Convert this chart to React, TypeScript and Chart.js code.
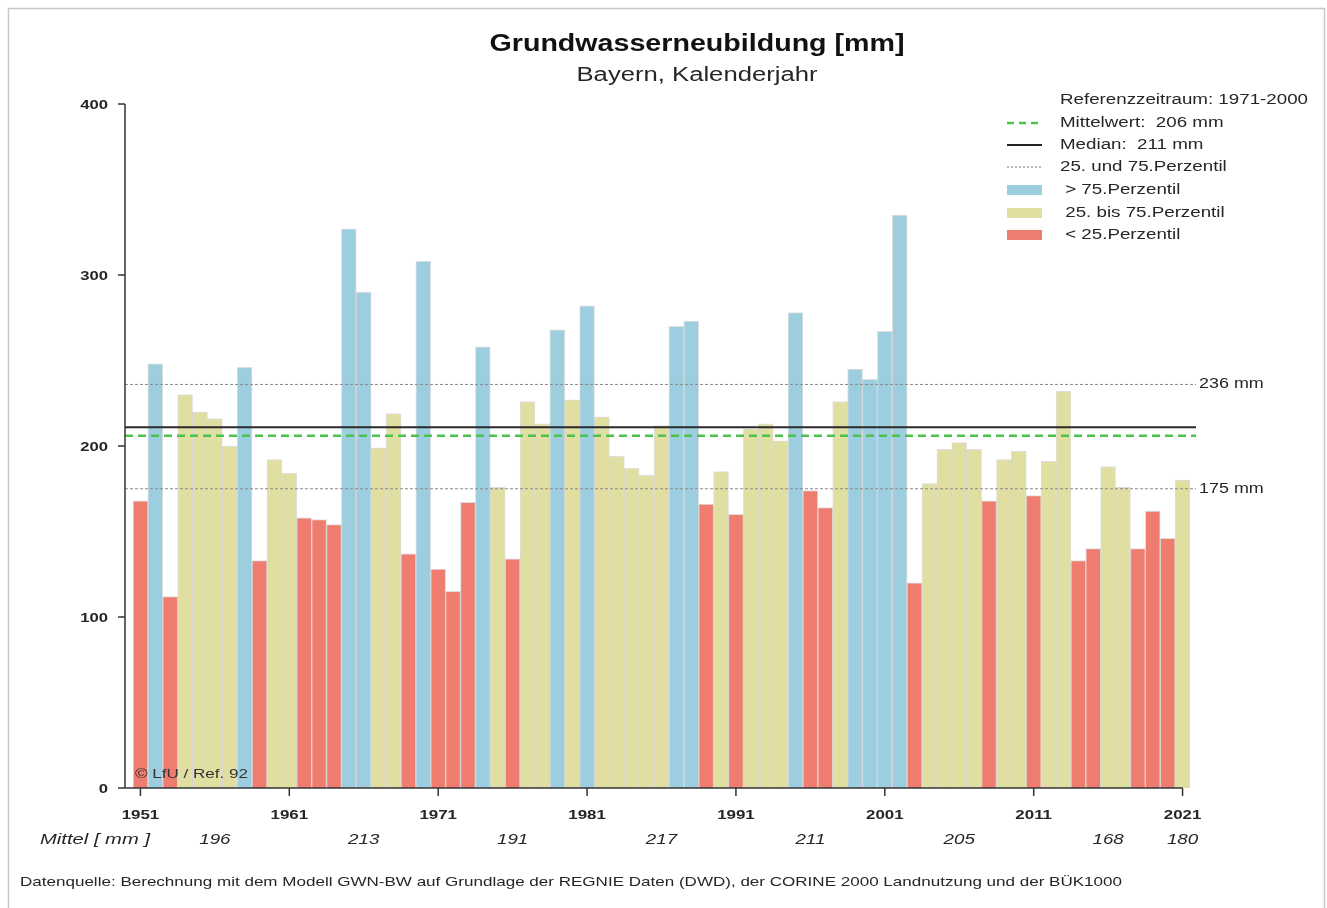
import React, { useEffect, useRef } from "react";
import { Chart, registerables } from "chart.js";

Chart.register(...registerables);

// ---- data ----
const years: number[] = Array.from({ length: 71 }, (_, i) => 1951 + i);
const recharge: number[] = [
  168, 248, 112, 230, 220, 216, 200, 246, 133, 192,
  184, 158, 157, 154, 327, 290, 199, 219, 137, 308,
  128, 115, 167, 258, 176, 134, 226, 213, 268, 227,
  282, 217, 194, 187, 183, 212, 270, 273, 166, 185,
  160, 210, 213, 203, 278, 174, 164, 226, 245, 239,
  267, 335, 120, 178, 198, 202, 198, 168, 192, 197,
  171, 191, 232, 133, 140, 188, 176, 140, 162, 146,
  180,
];
const yTicks: number[] = [0, 100, 200, 300, 400];
const xTickYears: number[] = [1951, 1961, 1971, 1981, 1991, 2001, 2011, 2021];
const meanLabelYears: number[] = [1956, 1966, 1976, 1986, 1996, 2006, 2016, 2021];
const decadeMeans: number[] = [196, 213, 191, 217, 211, 205, 168, 180];
const refMean = 206;
const refMedian = 211;
const p25 = 175;
const p75 = 236;

const titleText = "Grundwasserneubildung [mm]";
const subtitleText = "Bayern, Kalenderjahr";
const legendHeader = "Referenzzeitraum: 1971-2000";
const legendItems: string[] = [
  "Mittelwert:  206 mm",
  "Median:  211 mm",
  "25. und 75.Perzentil",
  " > 75.Perzentil",
  " 25. bis 75.Perzentil",
  " < 25.Perzentil",
];
const sourceText =
  "Datenquelle: Berechnung mit dem Modell GWN-BW auf Grundlage der REGNIE Daten (DWD), der CORINE 2000 Landnutzung und der BÜK1000";
const copyrightText = "© LfU / Ref. 92";

const BLUE = "rgb(157,206,223)";
const YELLOW = "rgb(224,222,160)";
const RED = "rgb(238,125,112)";
const FF = '"Liberation Sans", Arial, Helvetica, sans-serif';
const TXT = "#262626";

function drawText(
  ctx: CanvasRenderingContext2D,
  s: string,
  x: number,
  y: number,
  font: string,
  opts: { align?: "left" | "right" | "center"; sx?: number; width?: number; color?: string } = {}
) {
  ctx.save();
  ctx.font = font;
  ctx.fillStyle = opts.color || TXT;
  ctx.textBaseline = "middle";
  ctx.textAlign = "left";
  const m = ctx.measureText(s).width;
  const sx = opts.width ? opts.width / m : opts.sx || 1;
  const w = m * sx;
  const align = opts.align || "left";
  const left = align === "left" ? x : align === "right" ? x - w : x - w / 2;
  ctx.translate(left, y);
  ctx.scale(sx, 1);
  ctx.fillText(s, 0, 0);
  ctx.restore();
  return sx;
}

function hline(
  ctx: CanvasRenderingContext2D,
  x1: number,
  x2: number,
  y: number,
  color: string,
  width: number,
  dash: number[]
) {
  ctx.save();
  ctx.strokeStyle = color;
  ctx.lineWidth = width;
  ctx.setLineDash(dash);
  ctx.beginPath();
  ctx.moveTo(x1, y);
  ctx.lineTo(x2, y);
  ctx.stroke();
  ctx.restore();
}

const decorPlugin = {
  id: "decor",
  beforeDraw(chart: any) {
    const ctx: CanvasRenderingContext2D = chart.ctx;
    ctx.save();
    ctx.fillStyle = "#ffffff";
    ctx.fillRect(0, 0, chart.width, chart.height);
    // outer frame (left, top, right)
    ctx.strokeStyle = "#c8c8c8";
    ctx.lineWidth = 1.5;
    ctx.beginPath();
    ctx.moveTo(8.5, chart.height);
    ctx.lineTo(8.5, 8.5);
    ctx.lineTo(1324.5, 8.5);
    ctx.lineTo(1324.5, chart.height);
    ctx.stroke();
    ctx.restore();
  },
  afterDatasetsDraw(chart: any) {
    const ctx: CanvasRenderingContext2D = chart.ctx;
    const xs = chart.scales.x;
    const ys = chart.scales.y;
    const area = chart.chartArea;
    const axisX = area.left - 8;
    const lineEnd = area.right + 6;

    // reference lines
    hline(ctx, axisX, lineEnd, ys.getPixelForValue(p75), "#8a8a8a", 1, [3, 2]);
    hline(ctx, axisX, lineEnd, ys.getPixelForValue(p25), "#8a8a8a", 1, [3, 2]);
    hline(ctx, axisX, lineEnd, ys.getPixelForValue(refMedian), "#2a2a2a", 2, []);
    hline(ctx, axisX, lineEnd, ys.getPixelForValue(refMean), "#4cc24c", 2.5, [8, 5]);
    drawText(ctx, p75 + " mm", lineEnd + 3, ys.getPixelForValue(p75), `14px ${FF}`, { sx: 1.28 });
    drawText(ctx, p25 + " mm", lineEnd + 3, ys.getPixelForValue(p25), `14px ${FF}`, { sx: 1.28 });

    // y axis
    const y0 = ys.getPixelForValue(0);
    const yTop = ys.getPixelForValue(400);
    ctx.save();
    ctx.strokeStyle = "#333";
    ctx.lineWidth = 1.5;
    ctx.beginPath();
    ctx.moveTo(axisX, yTop);
    ctx.lineTo(axisX, y0);
    ctx.stroke();
    yTicks.forEach((v) => {
      const py = ys.getPixelForValue(v);
      ctx.beginPath();
      ctx.moveTo(axisX - 7, py);
      ctx.lineTo(axisX, py);
      ctx.stroke();
    });
    // x axis
    const lastX = xs.getPixelForValue(years.length - 1);
    ctx.beginPath();
    ctx.moveTo(axisX, y0);
    ctx.lineTo(lastX, y0);
    ctx.stroke();
    xTickYears.forEach((yr) => {
      const px = xs.getPixelForValue(years.indexOf(yr));
      ctx.beginPath();
      ctx.moveTo(px, y0);
      ctx.lineTo(px, y0 + 8);
      ctx.stroke();
    });
    ctx.restore();

    yTicks.forEach((v) => {
      drawText(ctx, String(v), axisX - 17, ys.getPixelForValue(v) + 1, `bold 13px ${FF}`, {
        align: "right",
        sx: 1.28,
      });
    });
    xTickYears.forEach((yr) => {
      drawText(ctx, String(yr), xs.getPixelForValue(years.indexOf(yr)), y0 + 27, `bold 13px ${FF}`, {
        align: "center",
        sx: 1.3,
      });
    });

    // Mittel row
    drawText(ctx, "Mittel [ mm ]", 95, y0 + 52, `italic 15px ${FF}`, { align: "center", width: 110 });
    meanLabelYears.forEach((yr, i) => {
      drawText(ctx, String(decadeMeans[i]), xs.getPixelForValue(years.indexOf(yr)), y0 + 52, `italic 15px ${FF}`, {
        align: "center",
        sx: 1.25,
      });
    });

    // copyright inside the plot
    drawText(ctx, copyrightText, 135, y0 - 14, `13px ${FF}`, { width: 113, color: "#333" });

    // source line
    drawText(ctx, sourceText, 20, 882, `13px ${FF}`, { width: 1102 });

    // titles
    drawText(ctx, titleText, 697, 45, `bold 23px ${FF}`, { align: "center", width: 415, color: "#111" });
    drawText(ctx, subtitleText, 697, 75, `20px ${FF}`, { align: "center", width: 241 });

    // legend
    const lx1 = 1007;
    const lx2 = 1042;
    const rows = [100, 123, 145, 167, 190, 213, 235];
    const lsx = drawText(ctx, legendHeader, 1060, rows[0], `14px ${FF}`, { width: 248 });
    hline(ctx, lx1, lx2, rows[1], "#4cc24c", 2.5, [7, 5]);
    hline(ctx, lx1, lx2, rows[2], "#222", 2, []);
    hline(ctx, lx1, lx2, rows[3], "#777", 1, [2, 2]);
    ctx.save();
    [BLUE, YELLOW, RED].forEach((c, i) => {
      ctx.fillStyle = c;
      ctx.fillRect(lx1, rows[4 + i] - 5, lx2 - lx1, 10);
    });
    ctx.restore();
    legendItems.forEach((s, i) => {
      drawText(ctx, s, 1060, rows[i + 1], `14px ${FF}`, { sx: lsx });
    });
  },
};

export default function App() {
  const ref = useRef<HTMLCanvasElement | null>(null);

  useEffect(() => {
    if (!ref.current) return;
    const chart = new Chart(ref.current, {
      type: "bar",
      data: {
        labels: years.map(String),
        datasets: [
          {
            data: recharge,
            backgroundColor: (c: any) => {
              const v = recharge[c.dataIndex];
              return v > p75 ? BLUE : v < p25 ? RED : YELLOW;
            },
            borderColor: "rgba(110,110,110,0.22)",
            borderWidth: 1,
            borderSkipped: "start",
            barPercentage: 1,
            categoryPercentage: 1,
          },
        ],
      },
      options: {
        responsive: false,
        animation: false,
        devicePixelRatio: 1,
        layout: { padding: { left: 133, right: 137, top: 104, bottom: 120 } },
        scales: {
          x: { display: false, offset: true },
          y: { display: false, min: 0, max: 400 },
        },
        plugins: {
          legend: { display: false },
          tooltip: { enabled: false },
          title: { display: false },
        },
      },
      plugins: [decorPlugin],
    } as any);
    return () => chart.destroy();
  }, []);

  return (
    <div style={{ position: "fixed", left: 0, top: 0, width: 1327, height: 908, background: "#fff" }}>
      <canvas ref={ref} width={1327} height={908} style={{ display: "block", width: 1327, height: 908 }} />
    </div>
  );
}
